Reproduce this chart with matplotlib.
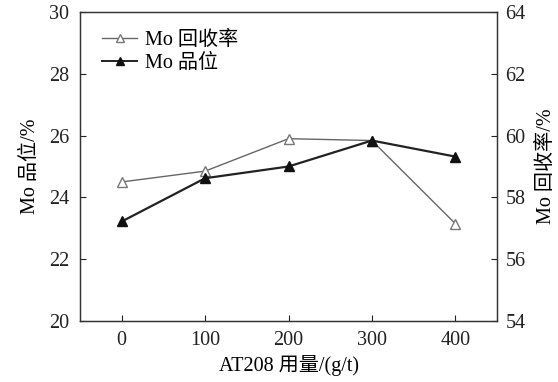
import matplotlib
matplotlib.use("Agg")
import matplotlib.pyplot as plt
from matplotlib.lines import Line2D

plt.rcParams['font.family'] = ['Liberation Serif', 'Noto Sans CJK SC']
plt.rcParams['axes.unicode_minus'] = False

dosage = [0, 100, 200, 300, 400]
grade = [23.22, 24.62, 25.0, 25.84, 25.32]          # Mo 品位 (left axis)
recovery = [58.5, 58.85, 59.9, 59.84, 57.15]        # Mo 回收率 (right axis)
xticks = [0, 100, 200, 300, 400]
left_ticks = [20, 22, 24, 26, 28, 30]
right_ticks = [54, 56, 58, 60, 62, 64]

FS = 14.5

fig = plt.figure(figsize=(5.58, 3.82), dpi=100)
ax = fig.add_axes([0.1434, 0.1597, 0.7473, 0.8089])
ax2 = ax.twinx()

ax2.plot(dosage, recovery, color='#666666', lw=1.0, marker='^', ms=6.5,
         mfc='white', mec='#777777', mew=1.0, zorder=3)
ax.plot(dosage, grade, color='#222222', lw=1.6, marker='^', ms=6.5,
        mfc='#111111', mec='#111111', zorder=4)
ax.set_zorder(ax2.get_zorder() + 1)
ax.patch.set_visible(False)

ax.set_xlim(-50, 450)
ax.set_ylim(20, 30)
ax2.set_ylim(54, 64)
ax.set_xticks(xticks)
ax.set_yticks(left_ticks)
ax2.set_yticks(right_ticks)

for a in (ax, ax2):
    a.tick_params(direction='in', length=4, width=0.8, labelsize=FS, colors='#222222')
    for s in a.spines.values():
        s.set_linewidth(0.9)
        s.set_color('#333333')
ax.tick_params(axis='x', pad=7)
ax.tick_params(axis='y', pad=8)
ax2.tick_params(axis='y', pad=6)

ax.set_xlabel('AT208 用量/(g/t)', fontsize=FS, labelpad=4)
ax.set_ylabel('Mo 品位/%', fontsize=FS, labelpad=6)
ax2.set_ylabel('Mo 回收率/%', fontsize=FS, labelpad=8)

handles = [
    Line2D([], [], color='#666666', lw=1.0, marker='^', ms=6, mfc='white', mec='#777777'),
    Line2D([], [], color='#222222', lw=1.4, marker='^', ms=6, mfc='#111111', mec='#111111'),
]
ax.legend(handles, ['Mo 回收率', 'Mo 品位'], loc='upper left', frameon=False,
          fontsize=FS, handlelength=1.7, handletextpad=0.4, borderaxespad=0.3,
          labelspacing=0.2, bbox_to_anchor=(0.02, 0.985))

fig.savefig('out.png', dpi=100)
